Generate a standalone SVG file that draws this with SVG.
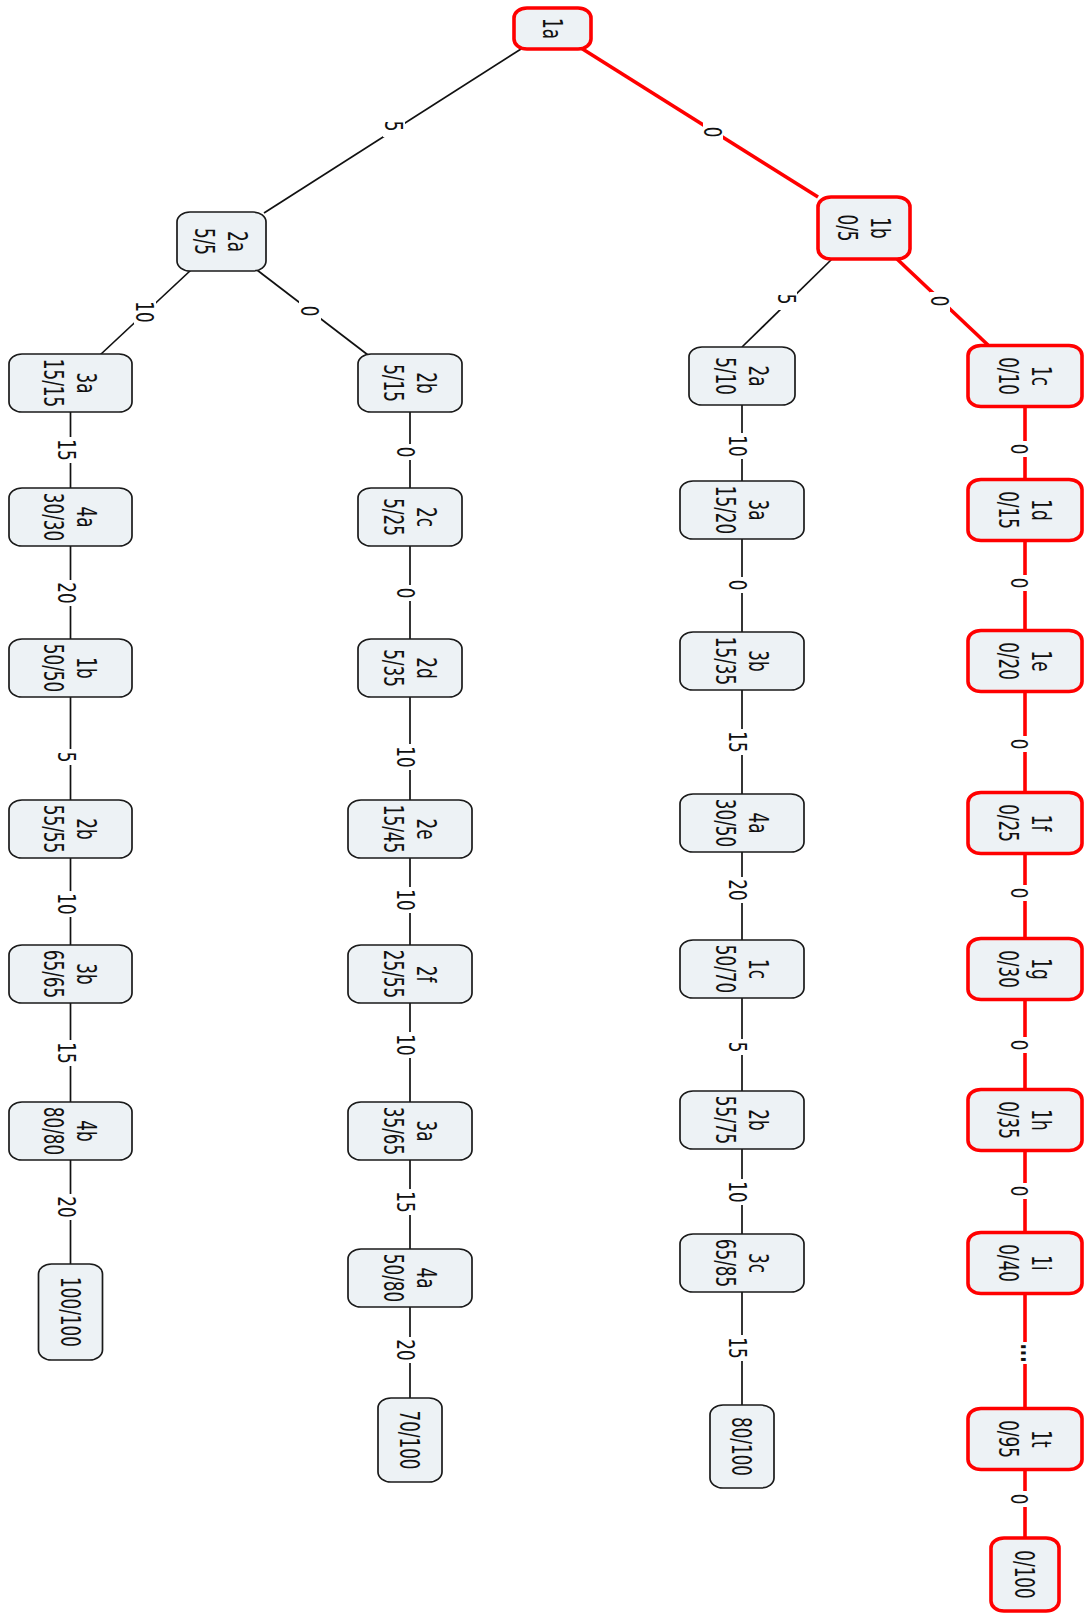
<svg xmlns="http://www.w3.org/2000/svg" width="1086" height="1614" viewBox="0 0 1086 1614">
<style>
.b{fill:#edf2f5;stroke:#1a1a1a;stroke-width:1.7}
.rn{fill:#edf2f5;stroke:#ff0000;stroke-width:3.6}
.e{stroke:#111;stroke-width:1.7;fill:none}
.re{stroke:#ff0000;stroke-width:3.6;fill:none}
.bg{fill:#ffffff}
text{font-family:"DejaVu Sans","Liberation Sans",sans-serif;font-size:16.8px;fill:#111;text-anchor:middle;dominant-baseline:central}
</style>
<rect width="1086" height="1614" fill="#ffffff"/>
<g id="connectors">
<line class="e" x1="521" y1="49" x2="264" y2="213"/>
<line class="re" x1="581" y1="48" x2="818" y2="197"/>
<line class="e" x1="191" y1="270" x2="100" y2="355"/>
<line class="e" x1="257" y1="270" x2="368" y2="355"/>
<line class="e" x1="832" y1="259" x2="742" y2="347"/>
<line class="re" x1="897" y1="259" x2="988" y2="345"/>
<rect class="bg" x="383" y="115" width="22" height="22"/>
<rect class="bg" x="703" y="122" width="20" height="20"/>
<rect class="bg" x="134" y="300" width="22" height="24"/>
<rect class="bg" x="299" y="300" width="22" height="20"/>
<rect class="bg" x="777" y="290" width="20" height="20"/>
<rect class="bg" x="930" y="292" width="20" height="20"/>
<g transform="translate(394,126) scale(1.5,1) rotate(90)"><text>5</text></g>
<g transform="translate(713,132) scale(1.5,1) rotate(90)"><text>0</text></g>
<g transform="translate(145,312) scale(1.5,1) rotate(90)"><text>10</text></g>
<g transform="translate(310,311) scale(1.5,1) rotate(90)"><text>0</text></g>
<g transform="translate(787,299) scale(1.5,1) rotate(90)"><text>5</text></g>
<g transform="translate(940,301) scale(1.5,1) rotate(90)"><text>0</text></g>
<!-- column 1 -->
<line class="e" x1="70.5" y1="412" x2="70.5" y2="488"/>
<line class="e" x1="70.5" y1="546" x2="70.5" y2="639"/>
<line class="e" x1="70.5" y1="697" x2="70.5" y2="800"/>
<line class="e" x1="70.5" y1="858" x2="70.5" y2="945"/>
<line class="e" x1="70.5" y1="1003" x2="70.5" y2="1102"/>
<line class="e" x1="70.5" y1="1160" x2="70.5" y2="1264"/>
<rect class="bg" x="55.5" y="437" width="22" height="26"/>
<rect class="bg" x="55.5" y="580" width="22" height="26"/>
<rect class="bg" x="55.5" y="749" width="22" height="16"/>
<rect class="bg" x="55.5" y="891" width="22" height="26"/>
<rect class="bg" x="55.5" y="1040" width="22" height="26"/>
<rect class="bg" x="55.5" y="1194" width="22" height="26"/>
<g transform="translate(66.5,450) scale(1.5,1) rotate(90)"><text>15</text></g>
<g transform="translate(66.5,593) scale(1.5,1) rotate(90)"><text>20</text></g>
<g transform="translate(66.5,757) scale(1.5,1) rotate(90)"><text>5</text></g>
<g transform="translate(66.5,904) scale(1.5,1) rotate(90)"><text>10</text></g>
<g transform="translate(66.5,1053) scale(1.5,1) rotate(90)"><text>15</text></g>
<g transform="translate(66.5,1207) scale(1.5,1) rotate(90)"><text>20</text></g>
<!-- column 2 -->
<line class="e" x1="410" y1="412" x2="410" y2="488"/>
<line class="e" x1="410" y1="546" x2="410" y2="639"/>
<line class="e" x1="410" y1="697" x2="410" y2="800"/>
<line class="e" x1="410" y1="858" x2="410" y2="945"/>
<line class="e" x1="410" y1="1003" x2="410" y2="1102"/>
<line class="e" x1="410" y1="1160" x2="410" y2="1249"/>
<line class="e" x1="410" y1="1307" x2="410" y2="1398"/>
<rect class="bg" x="395" y="444" width="22" height="16"/>
<rect class="bg" x="395" y="585" width="22" height="16"/>
<rect class="bg" x="395" y="744" width="22" height="26"/>
<rect class="bg" x="395" y="887" width="22" height="26"/>
<rect class="bg" x="395" y="1032" width="22" height="26"/>
<rect class="bg" x="395" y="1189" width="22" height="26"/>
<rect class="bg" x="395" y="1337" width="22" height="26"/>
<g transform="translate(406,452) scale(1.5,1) rotate(90)"><text>0</text></g>
<g transform="translate(406,593) scale(1.5,1) rotate(90)"><text>0</text></g>
<g transform="translate(406,757) scale(1.5,1) rotate(90)"><text>10</text></g>
<g transform="translate(406,900) scale(1.5,1) rotate(90)"><text>10</text></g>
<g transform="translate(406,1045) scale(1.5,1) rotate(90)"><text>10</text></g>
<g transform="translate(406,1202) scale(1.5,1) rotate(90)"><text>15</text></g>
<g transform="translate(406,1350) scale(1.5,1) rotate(90)"><text>20</text></g>
<!-- column 3 -->
<line class="e" x1="742" y1="405" x2="742" y2="481"/>
<line class="e" x1="742" y1="539" x2="742" y2="632"/>
<line class="e" x1="742" y1="690" x2="742" y2="794"/>
<line class="e" x1="742" y1="852" x2="742" y2="940"/>
<line class="e" x1="742" y1="998" x2="742" y2="1091"/>
<line class="e" x1="742" y1="1149" x2="742" y2="1234"/>
<line class="e" x1="742" y1="1292" x2="742" y2="1405"/>
<rect class="bg" x="727" y="433" width="22" height="26"/>
<rect class="bg" x="727" y="577" width="22" height="16"/>
<rect class="bg" x="727" y="729" width="22" height="26"/>
<rect class="bg" x="727" y="877" width="22" height="26"/>
<rect class="bg" x="727" y="1039" width="22" height="16"/>
<rect class="bg" x="727" y="1179" width="22" height="26"/>
<rect class="bg" x="727" y="1335" width="22" height="26"/>
<g transform="translate(738,446) scale(1.5,1) rotate(90)"><text>10</text></g>
<g transform="translate(738,585) scale(1.5,1) rotate(90)"><text>0</text></g>
<g transform="translate(738,742) scale(1.5,1) rotate(90)"><text>15</text></g>
<g transform="translate(738,890) scale(1.5,1) rotate(90)"><text>20</text></g>
<g transform="translate(738,1047) scale(1.5,1) rotate(90)"><text>5</text></g>
<g transform="translate(738,1192) scale(1.5,1) rotate(90)"><text>10</text></g>
<g transform="translate(738,1348) scale(1.5,1) rotate(90)"><text>15</text></g>
<!-- column 4 (red path) -->
<line class="re" x1="1025" y1="406" x2="1025" y2="480"/>
<line class="re" x1="1025" y1="541" x2="1025" y2="631"/>
<line class="re" x1="1025" y1="692" x2="1025" y2="793"/>
<line class="re" x1="1025" y1="854" x2="1025" y2="939"/>
<line class="re" x1="1025" y1="1000" x2="1025" y2="1090"/>
<line class="re" x1="1025" y1="1151" x2="1025" y2="1233"/>
<line class="re" x1="1025" y1="1294" x2="1025" y2="1409"/>
<line class="re" x1="1025" y1="1470" x2="1025" y2="1538"/>
<rect class="bg" x="1009" y="441" width="19" height="16"/>
<rect class="bg" x="1009" y="575" width="19" height="16"/>
<rect class="bg" x="1009" y="736" width="19" height="16"/>
<rect class="bg" x="1009" y="885" width="19" height="16"/>
<rect class="bg" x="1009" y="1037" width="19" height="16"/>
<rect class="bg" x="1009" y="1183" width="19" height="16"/>
<rect class="bg" x="1018" y="1342" width="14" height="22"/>
<rect class="bg" x="1009" y="1491" width="19" height="16"/>
<g transform="translate(1019,449) scale(1.35,1) rotate(90)"><text>0</text></g>
<g transform="translate(1019,583) scale(1.35,1) rotate(90)"><text>0</text></g>
<g transform="translate(1019,744) scale(1.35,1) rotate(90)"><text>0</text></g>
<g transform="translate(1019,893) scale(1.35,1) rotate(90)"><text>0</text></g>
<g transform="translate(1019,1045) scale(1.35,1) rotate(90)"><text>0</text></g>
<g transform="translate(1019,1191) scale(1.35,1) rotate(90)"><text>0</text></g>
<g transform="translate(1023,1353) scale(1.5,1) rotate(90)"><text style="dominant-baseline:auto;font-weight:bold" y="1">...</text></g>
<g transform="translate(1019,1499) scale(1.35,1) rotate(90)"><text>0</text></g>
</g>
<!-- nodes -->
<g id="n-1a"><rect class="rn" x="514" y="8" width="77" height="41" rx="13" ry="10"/><g transform="translate(552.5,28.5) scale(1.6,1) rotate(90)"><text>1a</text></g></g>
<g id="n-2a-5"><rect class="b" x="177" y="212" width="89" height="59" rx="13" ry="10"/><g transform="translate(238,241.5) scale(1.6,1) rotate(90)"><text>2a</text></g><g transform="translate(205,241.5) scale(1.6,1) rotate(90)"><text>5/5</text></g></g>
<g id="n-1b-0"><rect class="rn" x="818" y="197" width="92" height="62" rx="13" ry="10"/><g transform="translate(880.5,228) scale(1.6,1) rotate(90)"><text>1b</text></g><g transform="translate(847.5,228) scale(1.6,1) rotate(90)"><text>0/5</text></g></g>
<!-- column 1 nodes -->
<g id="n-3a-15"><rect class="b" x="9" y="354" width="123" height="58" rx="13" ry="10"/><g transform="translate(87,383) scale(1.6,1) rotate(90)"><text>3a</text></g><g transform="translate(54,383) scale(1.6,1) rotate(90)"><text>15/15</text></g></g>
<g id="n-4a-30"><rect class="b" x="9" y="488" width="123" height="58" rx="13" ry="10"/><g transform="translate(87,517) scale(1.6,1) rotate(90)"><text>4a</text></g><g transform="translate(54,517) scale(1.6,1) rotate(90)"><text>30/30</text></g></g>
<g id="n-1b-50"><rect class="b" x="9" y="639" width="123" height="58" rx="13" ry="10"/><g transform="translate(87,668) scale(1.6,1) rotate(90)"><text>1b</text></g><g transform="translate(54,668) scale(1.6,1) rotate(90)"><text>50/50</text></g></g>
<g id="n-2b-55"><rect class="b" x="9" y="800" width="123" height="58" rx="13" ry="10"/><g transform="translate(87,829) scale(1.6,1) rotate(90)"><text>2b</text></g><g transform="translate(54,829) scale(1.6,1) rotate(90)"><text>55/55</text></g></g>
<g id="n-3b-65"><rect class="b" x="9" y="945" width="123" height="58" rx="13" ry="10"/><g transform="translate(87,974) scale(1.6,1) rotate(90)"><text>3b</text></g><g transform="translate(54,974) scale(1.6,1) rotate(90)"><text>65/65</text></g></g>
<g id="n-4b-80"><rect class="b" x="9" y="1102" width="123" height="58" rx="13" ry="10"/><g transform="translate(87,1131) scale(1.6,1) rotate(90)"><text>4b</text></g><g transform="translate(54,1131) scale(1.6,1) rotate(90)"><text>80/80</text></g></g>
<g id="n-100"><rect class="b" x="38.5" y="1264" width="64" height="96" rx="13" ry="10"/><g transform="translate(70.5,1312) scale(1.6,1) rotate(90)"><text>100/100</text></g></g>
<!-- column 2 nodes -->
<g id="n-2b-5"><rect class="b" x="358" y="354" width="104" height="58" rx="13" ry="10"/><g transform="translate(426.5,383) scale(1.6,1) rotate(90)"><text>2b</text></g><g transform="translate(393.5,383) scale(1.6,1) rotate(90)"><text>5/15</text></g></g>
<g id="n-2c-5"><rect class="b" x="358" y="488" width="104" height="58" rx="13" ry="10"/><g transform="translate(426.5,517) scale(1.6,1) rotate(90)"><text>2c</text></g><g transform="translate(393.5,517) scale(1.6,1) rotate(90)"><text>5/25</text></g></g>
<g id="n-2d-5"><rect class="b" x="358" y="639" width="104" height="58" rx="13" ry="10"/><g transform="translate(426.5,668) scale(1.6,1) rotate(90)"><text>2d</text></g><g transform="translate(393.5,668) scale(1.6,1) rotate(90)"><text>5/35</text></g></g>
<g id="n-2e-15"><rect class="b" x="348" y="800" width="124" height="58" rx="13" ry="10"/><g transform="translate(426.5,829) scale(1.6,1) rotate(90)"><text>2e</text></g><g transform="translate(393.5,829) scale(1.6,1) rotate(90)"><text>15/45</text></g></g>
<g id="n-2f-25"><rect class="b" x="348" y="945" width="124" height="58" rx="13" ry="10"/><g transform="translate(426.5,974) scale(1.6,1) rotate(90)"><text>2f</text></g><g transform="translate(393.5,974) scale(1.6,1) rotate(90)"><text>25/55</text></g></g>
<g id="n-3a-35"><rect class="b" x="348" y="1102" width="124" height="58" rx="13" ry="10"/><g transform="translate(426.5,1131) scale(1.6,1) rotate(90)"><text>3a</text></g><g transform="translate(393.5,1131) scale(1.6,1) rotate(90)"><text>35/65</text></g></g>
<g id="n-4a-50"><rect class="b" x="348" y="1249" width="124" height="58" rx="13" ry="10"/><g transform="translate(426.5,1278) scale(1.6,1) rotate(90)"><text>4a</text></g><g transform="translate(393.5,1278) scale(1.6,1) rotate(90)"><text>50/80</text></g></g>
<g id="n-70"><rect class="b" x="378" y="1398" width="64" height="84" rx="13" ry="10"/><g transform="translate(410,1440) scale(1.6,1) rotate(90)"><text>70/100</text></g></g>
<!-- column 3 nodes -->
<g id="n-2a-5b"><rect class="b" x="689" y="347" width="106" height="58" rx="13" ry="10"/><g transform="translate(758.5,376) scale(1.6,1) rotate(90)"><text>2a</text></g><g transform="translate(725.5,376) scale(1.6,1) rotate(90)"><text>5/10</text></g></g>
<g id="n-3a-15b"><rect class="b" x="680" y="481" width="124" height="58" rx="13" ry="10"/><g transform="translate(758.5,510) scale(1.6,1) rotate(90)"><text>3a</text></g><g transform="translate(725.5,510) scale(1.6,1) rotate(90)"><text>15/20</text></g></g>
<g id="n-3b-15"><rect class="b" x="680" y="632" width="124" height="58" rx="13" ry="10"/><g transform="translate(758.5,661) scale(1.6,1) rotate(90)"><text>3b</text></g><g transform="translate(725.5,661) scale(1.6,1) rotate(90)"><text>15/35</text></g></g>
<g id="n-4a-30b"><rect class="b" x="680" y="794" width="124" height="58" rx="13" ry="10"/><g transform="translate(758.5,823) scale(1.6,1) rotate(90)"><text>4a</text></g><g transform="translate(725.5,823) scale(1.6,1) rotate(90)"><text>30/50</text></g></g>
<g id="n-1c-50"><rect class="b" x="680" y="940" width="124" height="58" rx="13" ry="10"/><g transform="translate(758.5,969) scale(1.6,1) rotate(90)"><text>1c</text></g><g transform="translate(725.5,969) scale(1.6,1) rotate(90)"><text>50/70</text></g></g>
<g id="n-2b-55b"><rect class="b" x="680" y="1091" width="124" height="58" rx="13" ry="10"/><g transform="translate(758.5,1120) scale(1.6,1) rotate(90)"><text>2b</text></g><g transform="translate(725.5,1120) scale(1.6,1) rotate(90)"><text>55/75</text></g></g>
<g id="n-3c-65"><rect class="b" x="680" y="1234" width="124" height="58" rx="13" ry="10"/><g transform="translate(758.5,1263) scale(1.6,1) rotate(90)"><text>3c</text></g><g transform="translate(725.5,1263) scale(1.6,1) rotate(90)"><text>65/85</text></g></g>
<g id="n-80"><rect class="b" x="710" y="1405" width="64" height="83" rx="13" ry="10"/><g transform="translate(742,1446.5) scale(1.6,1) rotate(90)"><text>80/100</text></g></g>
<!-- column 4 nodes (red) -->
<g id="n-1c-0"><rect class="rn" x="968" y="345.5" width="114" height="61" rx="13" ry="10"/><g transform="translate(1041.5,376) scale(1.6,1) rotate(90)"><text>1c</text></g><g transform="translate(1008.5,376) scale(1.6,1) rotate(90)"><text>0/10</text></g></g>
<g id="n-1d-0"><rect class="rn" x="968" y="479.5" width="114" height="61" rx="13" ry="10"/><g transform="translate(1041.5,510) scale(1.6,1) rotate(90)"><text>1d</text></g><g transform="translate(1008.5,510) scale(1.6,1) rotate(90)"><text>0/15</text></g></g>
<g id="n-1e-0"><rect class="rn" x="968" y="630.5" width="114" height="61" rx="13" ry="10"/><g transform="translate(1041.5,661) scale(1.6,1) rotate(90)"><text>1e</text></g><g transform="translate(1008.5,661) scale(1.6,1) rotate(90)"><text>0/20</text></g></g>
<g id="n-1f-0"><rect class="rn" x="968" y="792.5" width="114" height="61" rx="13" ry="10"/><g transform="translate(1041.5,823) scale(1.6,1) rotate(90)"><text>1f</text></g><g transform="translate(1008.5,823) scale(1.6,1) rotate(90)"><text>0/25</text></g></g>
<g id="n-1g-0"><rect class="rn" x="968" y="938.5" width="114" height="61" rx="13" ry="10"/><g transform="translate(1041.5,969) scale(1.6,1) rotate(90)"><text>1g</text></g><g transform="translate(1008.5,969) scale(1.6,1) rotate(90)"><text>0/30</text></g></g>
<g id="n-1h-0"><rect class="rn" x="968" y="1089.5" width="114" height="61" rx="13" ry="10"/><g transform="translate(1041.5,1120) scale(1.6,1) rotate(90)"><text>1h</text></g><g transform="translate(1008.5,1120) scale(1.6,1) rotate(90)"><text>0/35</text></g></g>
<g id="n-1i-0"><rect class="rn" x="968" y="1232.5" width="114" height="61" rx="13" ry="10"/><g transform="translate(1041.5,1263) scale(1.6,1) rotate(90)"><text>1i</text></g><g transform="translate(1008.5,1263) scale(1.6,1) rotate(90)"><text>0/40</text></g></g>
<g id="n-1t-0"><rect class="rn" x="968" y="1408.5" width="114" height="61" rx="13" ry="10"/><g transform="translate(1041.5,1439) scale(1.6,1) rotate(90)"><text>1t</text></g><g transform="translate(1008.5,1439) scale(1.6,1) rotate(90)"><text>0/95</text></g></g>
<g id="n-0-100"><rect class="rn" x="991" y="1538" width="68" height="73" rx="13" ry="10"/><g transform="translate(1025,1574.5) scale(1.6,1) rotate(90)"><text>0/100</text></g></g>
</svg>
